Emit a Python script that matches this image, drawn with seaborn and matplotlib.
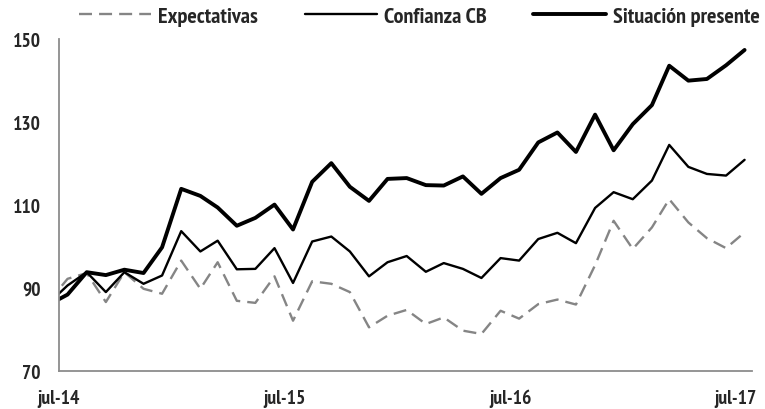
import pandas as pd
import numpy as np
import seaborn as sns
import matplotlib.pyplot as plt

# datos mensuales (jun-14 a jul-17), fechados a mitad de mes
meses = pd.date_range('2014-06-01', periods=38, freq='MS') + pd.Timedelta(days=14)

expectativas = [86.8, 92.2, 93.6, 86.6, 93.8, 89.8, 88.6, 96.6, 89.8, 96.2,
                86.9, 86.4, 92.8, 82.1, 91.6, 91.0, 89.0, 80.5, 83.3, 84.7,
                81.3, 82.9, 79.7, 78.9, 84.5, 82.6, 86.1, 87.2, 86.0, 95.5,
                106.2, 99.4, 104.6, 111.4, 105.8, 102.0, 99.6, 103.4]

confianza_cb = [86.4, 90.6, 93.8, 89.0, 93.8, 91.0, 93.0, 103.7, 98.8, 101.4,
                94.5, 94.6, 99.6, 91.2, 101.2, 102.4, 98.8, 92.8, 96.2, 97.7,
                93.9, 96.0, 94.6, 92.4, 97.2, 96.6, 101.8, 103.3, 100.8, 109.3,
                113.1, 111.4, 115.9, 124.5, 119.2, 117.5, 117.1, 120.9]

situacion_presente = [86.0, 88.4, 93.8, 93.1, 94.4, 93.6, 99.8, 113.9, 112.2, 109.4,
                      105.0, 106.9, 110.1, 104.1, 115.6, 120.1, 114.4, 111.0, 116.3, 116.5,
                      114.8, 114.7, 116.9, 112.7, 116.5, 118.5, 125.1, 127.5, 122.8, 131.8,
                      123.2, 129.5, 134.1, 143.6, 140.0, 140.4, 143.7, 147.4]

etiquetas_x = ['jul-14', 'jul-15', 'jul-16', 'jul-17']
fechas_x = pd.to_datetime(['2014-07-01', '2015-07-01', '2016-07-01', '2017-07-01'])
ticks_y = [70, 90, 110, 130, 150]

df = pd.DataFrame({'fecha': meses,
                   'Expectativas': expectativas,
                   'Confianza CB': confianza_cb,
                   'Situación presente': situacion_presente})

sns.set_style('white')
plt.rcParams['font.family'] = ['Liberation Sans Narrow', 'PT Sans Narrow', 'Asap Condensed', 'DejaVu Sans']
plt.rcParams['font.weight'] = 'bold'

fig = plt.figure(figsize=(7.65, 4.1), dpi=100)
ax = fig.add_axes([0.077, 0.093, 0.906, 0.809])

gris = '#858585'
sns.lineplot(data=df, x='fecha', y='Expectativas', ax=ax, color=gris, lw=1.7,
             label='Expectativas').lines[-1].set_dashes((5.5, 3.0))
sns.lineplot(data=df, x='fecha', y='Confianza CB', ax=ax, color='black', lw=1.7,
             label='Confianza CB')
sns.lineplot(data=df, x='fecha', y='Situación presente', ax=ax, color='black', lw=2.8,
             label='Situación presente')

ax.set_xlim(pd.Timestamp('2014-07-01'), pd.Timestamp('2017-07-27'))
ax.set_ylim(70, 150)
ax.set_xticks(fechas_x)
ax.set_xticklabels(etiquetas_x)
ax.set_yticks(ticks_y)
ax.set_xlabel('')
ax.set_ylabel('')

for lado in ['top', 'right']:
    ax.spines[lado].set_visible(False)
for lado in ['left', 'bottom']:
    ax.spines[lado].set_color('#8c8c8c')
    ax.spines[lado].set_linewidth(1.3)

ax.tick_params(axis='both', direction='out', length=4, width=1.2, color='#8c8c8c',
               labelsize=14)
ax.tick_params(axis='y', pad=9)
ax.tick_params(axis='x', pad=9)
for t in ax.get_xticklabels() + ax.get_yticklabels():
    t.set_fontweight('bold')

ax.legend_.remove()
h, l = ax.get_legend_handles_labels()
fig.legend(h, l, loc='center', bbox_to_anchor=(0.548, 0.9585), ncol=3, frameon=False,
           prop={'size': 16, 'weight': 'bold'}, handlelength=3.25, handletextpad=0.32,
           columnspacing=2.1, borderpad=0)

fig.savefig('out.png', dpi=100)
